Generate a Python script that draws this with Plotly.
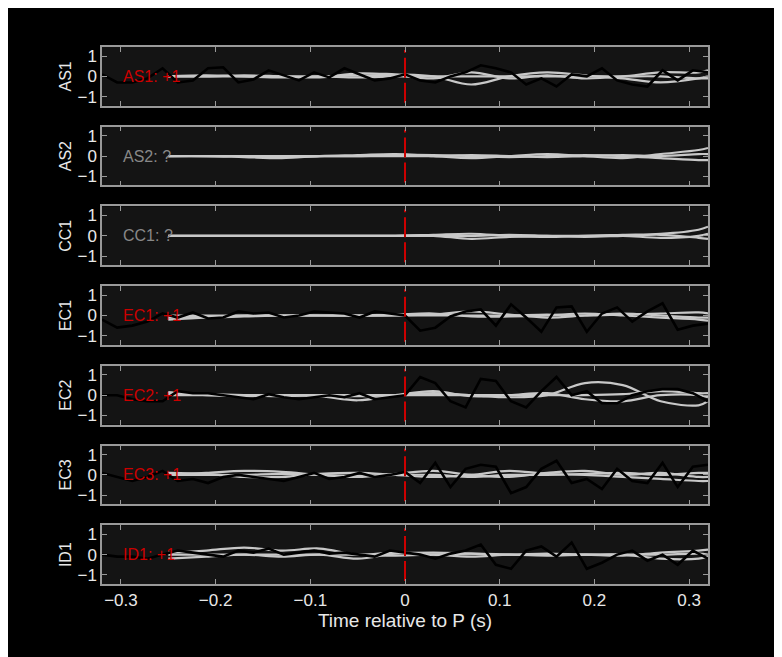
import plotly.graph_objects as go
from plotly.subplots import make_subplots

stations = ["AS1", "AS2", "CC1", "EC1", "EC2", "EC3", "ID1"]
polarity = ["+1", "?", "?", "+1", "+1", "+1", "+1"]

# black trace sample times
bx = [-0.32, -0.304, -0.288, -0.272, -0.256, -0.24, -0.224, -0.208, -0.192, -0.176,
      -0.16, -0.144, -0.128, -0.112, -0.096, -0.08, -0.064, -0.048, -0.032, -0.016,
      0.0, 0.016, 0.032, 0.048, 0.064, 0.08, 0.096, 0.112, 0.128, 0.144,
      0.16, 0.176, 0.192, 0.208, 0.224, 0.24, 0.256, 0.272, 0.288, 0.304, 0.32]

black = {
    "AS1": [0.1, -0.3, -0.3, -0.1, 0.4, -0.3, -0.2, 0.4, 0.45, -0.3, -0.15,
            0.3, 0.05, -0.2, 0.2, -0.05, 0.4, 0.1, -0.2, -0.1, 0.1, -0.2, -0.3,
            0.0, 0.2, 0.55, 0.4, 0.2, -0.4, -0.1, -0.5, 0.1, 0.0, 0.4, -0.2,
            -0.4, -0.5, 0.3, -0.2, 0.3, 0.2],
    "AS2": None,
    "CC1": None,
    "EC1": [-0.2, -0.6, -0.5, -0.3, 0.1, -0.1, 0.15, -0.15, -0.1, 0.2, 0.1, 0.15,
            -0.1, 0.0, 0.2, 0.15, 0.1, -0.1, 0.2, 0.1, 0.0, -0.75, -0.6, -0.05, 0.2, 0.3,
            -0.5, 0.55, -0.1, -0.8, 0.4, 0.45, -0.8, 0.1, 0.4, -0.3, 0.2, 0.6, -0.7,
            -0.5, -0.4],
    "EC2": [0.0, 0.0, -0.2, -0.3, -0.3, 0.2, 0.1, 0.1, 0.0, -0.1, -0.2, 0.05,
            -0.1, -0.2, -0.1, 0.0, -0.1, 0.1, -0.2, -0.1, 0.0, 0.9, 0.6, -0.3, -0.6, 0.8,
            0.7, -0.3, -0.6, 0.2, 0.9, 0.0, 0.2, -0.4, -0.4, 0.0, 0.2, 0.3, 0.3,
            0.1, -0.3],
    "EC3": [0.1, -0.1, -0.3, -0.1, 0.2, -0.3, -0.2, -0.4, -0.1, 0.0, -0.1, -0.2,
            -0.3, -0.1, 0.1, -0.2, -0.1, 0.1, -0.1, 0.0, 0.15, -0.4, 0.6, -0.6, 0.3, 0.5,
            0.4, -0.9, -0.6, 0.3, 0.7, -0.4, -0.2, -0.7, 0.3, -0.3, -0.4, 0.6, -0.6,
            0.4, 0.5],
    "ID1": [0.0, -0.1, -0.1, -0.2, 0.0, 0.2, 0.1, 0.0, -0.1, 0.2, 0.1, 0.3,
            0.0, 0.1, 0.2, 0.05, 0.1, 0.0, -0.1, 0.2, 0.1, 0.0, -0.2, 0.05, 0.2, 0.5,
            -0.5, -0.7, 0.2, 0.4, -0.1, 0.6, -0.7, -0.4, 0.0, 0.2, -0.3, 0.0, -0.5,
            0.2, -0.2],
}

# grey synthetic traces sample times
gx = [-0.25, -0.21, -0.17, -0.13, -0.09, -0.05, -0.01, 0.03, 0.07,
      0.11, 0.15, 0.19, 0.23, 0.27, 0.31, 0.32]

grey = {
    "AS1": [[0.0, 0.05, 0.0, -0.05, 0.0, 0.05, 0.05, -0.1, 0.2, -0.1, 0.05, -0.1, 0.0, 0.2, 0.2, 0.3],
            [0.0, 0.0, 0.05, 0.0, -0.05, 0.15, 0.1, 0.0, -0.4, 0.0, 0.2, 0.05, -0.1, -0.3, -0.1, 0.0],
            [0.0, 0.0, 0.0, 0.0, 0.0, -0.05, 0.0, 0.0, 0.0, 0.0, 0.0, 0.0, 0.0, 0.0, -0.1, -0.1]],
    "AS2": [[0.0, 0.0, -0.05, -0.1, 0.0, 0.05, 0.1, 0.0, -0.1, 0.0, 0.1, 0.0, -0.1, 0.1, 0.3, 0.4],
            [0.0, 0.0, 0.0, -0.05, 0.0, 0.0, 0.05, 0.05, 0.0, -0.05, 0.0, 0.05, 0.0, -0.1, -0.2, -0.2],
            [0.0, 0.0, 0.0, 0.0, 0.0, 0.0, 0.0, 0.0, 0.05, 0.0, -0.05, 0.0, 0.05, 0.0, 0.1, 0.1]],
    "CC1": [[0.0, 0.0, 0.0, 0.0, 0.0, 0.0, 0.0, 0.0, -0.15, -0.05, 0.0, 0.0, 0.05, 0.1, 0.3, 0.45],
            [0.0, 0.0, 0.0, 0.0, 0.0, 0.0, 0.0, 0.05, 0.1, 0.0, -0.05, 0.0, 0.0, -0.1, 0.0, 0.1],
            [0.0, 0.0, 0.0, 0.0, 0.0, 0.0, 0.0, 0.0, 0.0, 0.05, 0.0, -0.05, 0.0, 0.05, -0.1, -0.15]],
    "EC1": [[-0.1, -0.05, 0.0, 0.0, 0.0, 0.0, 0.05, 0.1, -0.05, -0.05, 0.0, 0.1, 0.0, -0.1, -0.2, -0.25],
            [0.0, 0.0, 0.0, 0.0, 0.0, 0.0, 0.0, 0.05, 0.2, 0.05, -0.1, 0.0, 0.1, 0.0, -0.1, -0.1],
            [-0.2, -0.1, -0.05, 0.0, 0.0, 0.0, 0.0, 0.0, 0.0, 0.0, 0.05, 0.0, 0.05, 0.1, 0.15, 0.1]],
    "EC2": [[0.1, 0.05, 0.0, -0.05, 0.0, -0.05, 0.0, 0.1, 0.0, -0.1, 0.0, 0.6, 0.5, -0.3, -0.5, -0.3],
            [0.15, 0.0, -0.05, 0.0, -0.05, -0.25, 0.0, 0.2, -0.05, 0.0, 0.1, -0.2, -0.3, 0.0, 0.0, -0.1],
            [0.0, 0.0, 0.0, 0.0, 0.0, 0.0, 0.0, 0.0, 0.0, 0.0, 0.0, 0.0, 0.05, 0.2, 0.1, 0.1]],
    "EC3": [[0.0, 0.1, 0.2, 0.15, 0.0, -0.1, 0.05, 0.2, 0.0, -0.1, 0.1, 0.2, 0.0, 0.1, -0.1, -0.1],
            [0.1, 0.05, -0.1, -0.1, 0.05, 0.1, 0.0, -0.1, 0.0, 0.2, 0.05, 0.0, -0.1, -0.2, -0.3, -0.3],
            [0.0, 0.0, 0.0, 0.05, 0.0, -0.05, 0.0, 0.0, -0.1, 0.0, 0.0, 0.05, 0.1, 0.0, 0.1, 0.1]],
    "ID1": [[0.1, 0.2, 0.35, 0.2, 0.3, 0.0, 0.1, 0.0, -0.1, 0.0, 0.0, 0.0, -0.05, 0.1, 0.2, 0.25],
            [-0.2, -0.1, 0.0, -0.1, 0.0, -0.2, 0.05, 0.1, 0.05, 0.0, 0.05, 0.0, 0.0, -0.2, -0.2, -0.1],
            [0.0, 0.0, 0.0, 0.0, 0.0, 0.0, -0.05, 0.0, 0.05, 0.0, -0.05, 0.0, 0.0, 0.0, 0.05, 0.0]],
}

fig = make_subplots(rows=len(stations), cols=1, shared_xaxes=True, vertical_spacing=0.039)

for i, st in enumerate(stations):
    r = i + 1
    for g in grey[st]:
        fig.add_trace(go.Scatter(x=gx, y=g, mode="lines", line=dict(color="#c8c8c8", width=2.2, shape="spline"),
                                 showlegend=False, hoverinfo="skip"), row=r, col=1)
    if black[st] is not None:
        fig.add_trace(go.Scatter(x=bx, y=black[st], mode="lines", line=dict(color="#000000", width=2.6),
                                 showlegend=False), row=r, col=1)
    fig.add_trace(go.Scatter(x=[0, 0], y=[-1.3, 1.3], mode="lines",
                             line=dict(color="#cc0000", width=2, dash="20px,5px"),
                             showlegend=False, hoverinfo="skip"), row=r, col=1)
    col = "#cc0000" if polarity[i] == "+1" else "#888888"
    fig.add_annotation(x=-0.30, y=0, text=f"{st}: {polarity[i]}", showarrow=False, xanchor="left",
                       font=dict(color=col, size=16), row=r, col=1)
    fig.update_yaxes(title_text=st, row=r, col=1)

axis_style = dict(showgrid=False, zeroline=False, showline=True, linecolor="#999999", linewidth=1.5,
                  mirror="ticks", ticks="inside", ticklen=5, tickcolor="#999999",
                  tickfont=dict(color="#e8e8e8", size=17))
fig.update_xaxes(range=[-0.32, 0.32], tickvals=[-0.3, -0.2, -0.1, 0, 0.1, 0.2, 0.3], **axis_style)
fig.update_yaxes(range=[-1.45, 1.45], tickvals=[-1, 0, 1], title_standoff=2,
                 title_font=dict(color="#e8e8e8", size=16), **axis_style)
fig.update_xaxes(title_text="Time relative to P (s)", title_font=dict(color="#e8e8e8", size=19),
                 title_standoff=4, row=len(stations), col=1)

fig.update_layout(
    width=774, height=649,
    margin=dict(l=94, r=74, t=39, b=73),
    paper_bgcolor="#000000", plot_bgcolor="#141414",
    font=dict(family="Liberation Sans, Arial", color="#e8e8e8"),
    showlegend=False,
)

fig.write_html("out.html")
